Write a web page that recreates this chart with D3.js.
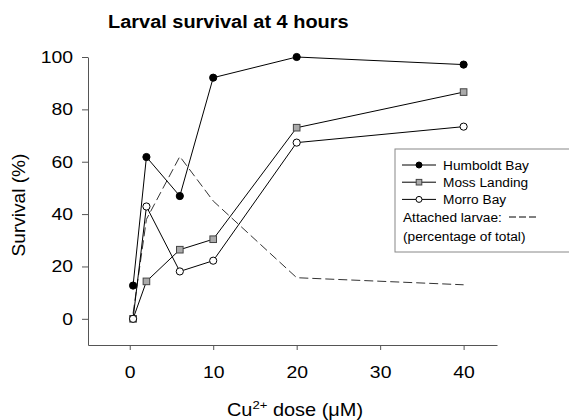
<!DOCTYPE html>
<html>
<head>
<meta charset="utf-8">
<script src="https://cdn.jsdelivr.net/npm/d3@7"></script>
<style>
  body { margin: 0; background: #fff; }
  svg { font-family: "Liberation Sans", Arial, sans-serif; }
</style>
</head>
<body>
<div id="chart"></div>
<script>
// Cu dose (uM) for each sample
const doses = [0.4, 2, 6, 10, 20, 40];
// survival (%) per site
const humboldt = [12.7, 61.8, 46.9, 92.1, 100, 97.1];
const mossLanding = [0, 14.3, 26.4, 30.4, 73.0, 86.6];
const morroBay = [0, 42.9, 18.1, 22.2, 67.3, 73.4];
// attached larvae (percentage of total)
const attached = [2, 38, 62, 45, 15.7, 13];
const xTicks = [0, 10, 20, 30, 40];
const yTicks = [0, 20, 40, 60, 80, 100];

const W = 569, H = 420;
const STRETCH = 1.14; // text in the original is a bit wider than tall

const svg = d3.select("#chart")
  .append("svg")
  .attr("width", W)
  .attr("height", H);

const x = d3.scaleLinear().domain([-5, 44]).range([88, 497]);
const y = d3.scaleLinear().domain([-10, 100]).range([345, 57]);

// widen text horizontally
function stretch(sel, k) {
  sel.each(function () {
    const len = this.getComputedTextLength();
    d3.select(this)
      .attr("textLength", len * (k || STRETCH))
      .attr("lengthAdjust", "spacingAndGlyphs");
  });
}

// title
svg.append("text")
  .attr("x", 108)
  .attr("y", 28)
  .style("font-size", "17.5px")
  .style("font-weight", "bold")
  .text("Larval survival at 4 hours")
  .call(stretch);

// Y axis
const yAxis = svg.append("g")
  .attr("transform", `translate(${x.range()[0]},0)`)
  .call(d3.axisLeft(y).tickValues(yTicks).tickSize(6).tickSizeOuter(0).tickPadding(9));
yAxis.selectAll("text").style("font-size", "17px").attr("fill", "#000").call(stretch);

// X axis
const xAxis = svg.append("g")
  .attr("transform", `translate(0,${y.range()[0]})`)
  .call(d3.axisBottom(x).tickValues(xTicks).tickSize(5).tickSizeOuter(0).tickPadding(16));
xAxis.selectAll("text").style("font-size", "17px").attr("fill", "#000").call(stretch);

[yAxis, xAxis].forEach(g => {
  g.attr("font-family", null);
  g.select(".domain").attr("stroke", "#555");
  g.selectAll(".tick line").attr("stroke", "#555");
});

// axis titles
svg.append("text")
  .attr("transform", "translate(25,205)rotate(-90)")
  .attr("text-anchor", "middle")
  .style("font-size", "18px")
  .text("Survival (%)")
  .call(stretch, 1.06);

const xl = svg.append("text")
  .attr("transform", `translate(295,416)scale(${STRETCH},1)`)
  .attr("text-anchor", "middle")
  .style("font-size", "17.5px");
xl.append("tspan").text("Cu");
xl.append("tspan").attr("dy", -7).style("font-size", "11.5px").text("2+");
xl.append("tspan").attr("dy", 7).text(" dose (\u03bcM)");

const line = d3.line()
  .x((d, i) => x(doses[i]))
  .y(d => y(d));

// attached larvae dashed line
svg.append("path")
  .datum(attached)
  .attr("d", line)
  .attr("fill", "none")
  .attr("stroke", "#333")
  .attr("stroke-width", 1)
  .attr("stroke-dasharray", "9,4");

const series = [
  { name: "Humboldt Bay", values: humboldt, shape: "circle", fill: "#000" },
  { name: "Moss Landing", values: mossLanding, shape: "square", fill: "#aaa" },
  { name: "Morro Bay", values: morroBay, shape: "circle", fill: "#fff" }
];

function marker(g, shape, fill, size) {
  if (shape === "circle") {
    g.append("circle").attr("r", size).attr("fill", fill).attr("stroke", "#000");
  } else {
    g.append("rect")
      .attr("x", -size).attr("y", -size)
      .attr("width", size * 2).attr("height", size * 2)
      .attr("fill", fill).attr("stroke", "#444");
  }
}

series.forEach(s => {
  svg.append("path")
    .datum(s.values)
    .attr("d", line)
    .attr("fill", "none")
    .attr("stroke", "#000")
    .attr("stroke-width", 1);
});

series.forEach(s => {
  svg.selectAll(null)
    .data(s.values)
    .join("g")
    .attr("transform", (d, i) => `translate(${x(doses[i])},${y(d)})`)
    .each(function () { marker(d3.select(this), s.shape, s.fill, s.shape === "circle" ? 3.6 : 3.3); });
});

// legend
const lg = svg.append("g");
lg.append("rect")
  .attr("x", 395).attr("y", 149)
  .attr("width", 200).attr("height", 103)
  .attr("fill", "#fff")
  .attr("stroke", "#888");

series.forEach((s, i) => {
  const ly = 165 + i * 17.2;
  lg.append("line")
    .attr("x1", 402).attr("x2", 436)
    .attr("y1", ly).attr("y2", ly)
    .attr("stroke", "#000");
  const m = lg.append("g").attr("transform", `translate(419,${ly})`);
  marker(m, s.shape, s.fill, s.shape === "circle" ? 3 : 2.8);
  lg.append("text")
    .attr("x", 443).attr("y", ly + 4.5)
    .style("font-size", "12px")
    .text(s.name)
    .call(stretch);
});

lg.append("text")
  .attr("x", 403).attr("y", 221.5)
  .style("font-size", "12px")
  .text("Attached larvae:")
  .call(stretch);
lg.append("line")
  .attr("x1", 509).attr("x2", 537)
  .attr("y1", 217).attr("y2", 217)
  .attr("stroke", "#000")
  .attr("stroke-dasharray", "7,3");
lg.append("text")
  .attr("x", 403).attr("y", 241)
  .style("font-size", "12px")
  .text("(percentage of total)")
  .call(stretch);
</script>
</body>
</html>
